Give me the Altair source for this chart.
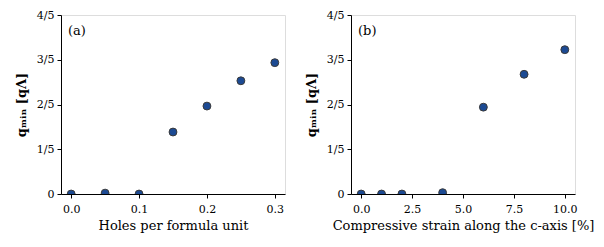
import altair as alt
import pandas as pd

holes = [0.0, 0.05, 0.10, 0.15, 0.20, 0.25, 0.30]
q_holes = [0.0, 0.004, 0.0, 0.277, 0.393, 0.506, 0.587]

strain = [0.0, 1.0, 2.0, 4.0, 6.0, 8.0, 10.0]
q_strain = [0.0, 0.0, 0.0, 0.006, 0.388, 0.535, 0.645]

y_ticks = [0.0, 0.2, 0.4, 0.6, 0.8]
y_labels = ["0", "1/5", "2/5", "3/5", "4/5"]

df_a = pd.DataFrame({"x": holes, "q": q_holes})
df_b = pd.DataFrame({"x": strain, "q": q_strain})

FONT = "DejaVu Serif"


def ylab_expr():
    parts = []
    for t, l in zip(y_ticks, y_labels):
        parts.append(f"abs(datum.value - {t}) < 1e-6 ? '{l}'")
    return " : ".join(parts) + " : ''"


def panel(df, xdomain, xticks, xfmt, xtitle, tag):
    base = alt.Chart(df)
    pts = base.mark_point(
        shape="circle", filled=True, size=62, fill="#1c4a93",
        stroke="#3a3a3a", strokeWidth=1, opacity=1, clip=True
    ).encode(
        x=alt.X("x:Q", scale=alt.Scale(domain=xdomain, nice=False, zero=False),
                axis=alt.Axis(values=xticks, format=xfmt, title=xtitle, grid=False,
                              labelFont=FONT, titleFont=FONT, labelFontSize=11,
                              titleFontSize=13, titleFontWeight="normal",
                              labelColor="black", titleColor="black",
                              tickColor="black", domainColor="black",
                              tickSize=4, labelPadding=5, titlePadding=5)),
        y=alt.Y("q:Q", scale=alt.Scale(domain=[0, 0.8], nice=False),
                axis=alt.Axis(values=y_ticks, labelExpr=ylab_expr(),
                              title="qₘᵢₙ [qΛ]", grid=False,
                              labelFont=FONT, titleFont=FONT, labelFontSize=11,
                              titleFontSize=13, titleFontWeight="bold",
                              labelColor="black", titleColor="black",
                              tickColor="black", domainColor="black",
                              tickSize=4, labelPadding=3, titlePadding=8)),
    )
    txt = alt.Chart(pd.DataFrame({"t": [tag]})).mark_text(
        font=FONT, fontSize=13, align="left", baseline="top", color="black"
    ).encode(x=alt.value(7), y=alt.value(10), text="t:N")
    return alt.layer(pts, txt).properties(width=224, height=179)


a = panel(df_a, [-0.015, 0.315], [0.0, 0.1, 0.2, 0.3], ".1f", "Holes per formula unit", "(a)")
b = panel(df_b, [-0.5, 10.5], [0.0, 2.5, 5.0, 7.5, 10.0], ".1f",
          "Compressive strain along the c-axis [%]", "(b)")

chart = alt.hconcat(a, b, spacing=18).configure_view(
    stroke="black", strokeWidth=1
).configure(background="white", padding={"left": 6, "top": 0, "right": 0, "bottom": 0})

chart.save("out.html", embed_options={"renderer": "svg", "actions": False})
